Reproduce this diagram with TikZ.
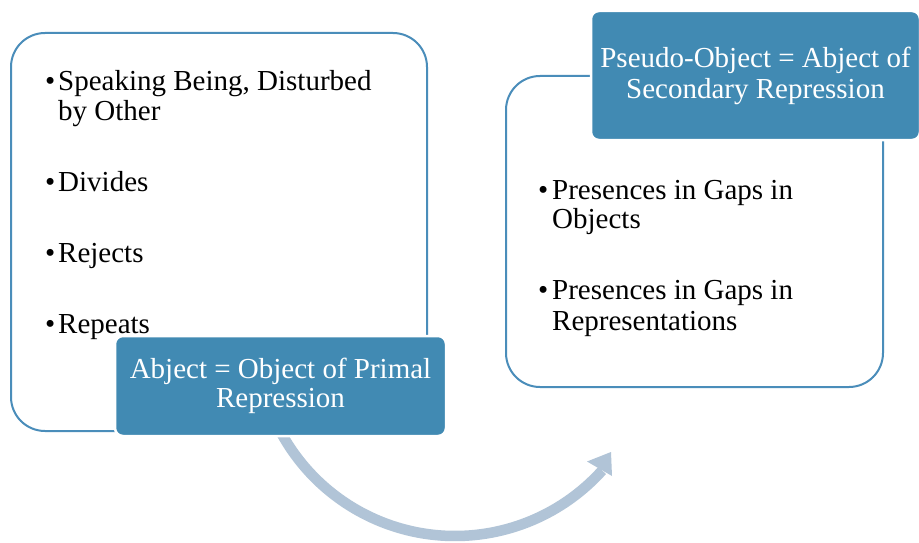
\documentclass[tikz,border=0pt]{standalone}
\usepackage{fontspec}
\setmainfont{Liberation Serif}
\definecolor{accent}{HTML}{418AB3}
\definecolor{frame}{HTML}{4A8DBA}
\definecolor{arrowcol}{HTML}{B1C4D7}

\begin{document}
\begin{tikzpicture}[x=1pt,y=-1pt,
  panel/.style={draw=frame, line width=2pt, rounded corners=34pt, fill=white,
    anchor=north west, inner sep=0pt},
  titlebox/.style={fill=accent, draw=white, line width=2.5pt, rounded corners=8pt,
    text=white, align=center, inner sep=0pt},
  item/.style={anchor=base west, inner sep=0pt, font=\fontsize{29}{30}\selectfont},
  flow/.style={draw=none, fill=arrowcol}
]
% canvas
\fill[white] (0,0) rectangle (919,543);
\useasboundingbox (0,0) rectangle (919,543);

% white panels
\node[panel, minimum width=416pt, minimum height=398pt] (left) at (10,32) {};
\node[panel, minimum width=377pt, minimum height=311pt] (right) at (505,75) {};

% bullet items of the left panel
\node[item] (l1d) at (45,90.7) {•};
\node[item] (l1)  at (58,90.7) {Speaking Being, Disturbed};
\node[item] (l1b) at (58,120.5) {by Other};
\node[item] (l2d) at (45,191.7) {•};
\node[item] (l2)  at (58,191.7) {Divides};
\node[item] (l3d) at (45,262.7) {•};
\node[item] (l3)  at (58,262.7) {Rejects};
\node[item] (l4d) at (45,333) {•};
\node[item] (l4)  at (58,333) {Repeats};

% bullet items of the right panel
\node[item] (r1d) at (538,199) {•};
\node[item] (r1)  at (552,199) {Presences in Gaps in};
\node[item] (r1b) at (552,228.7) {Objects};
\node[item] (r2d) at (538,299) {•};
\node[item] (r2)  at (552,299) {Presences in Gaps in};
\node[item] (r2b) at (552,330) {Representations};

% curved arrow from the first heading towards the second panel
\coordinate (ac) at (455,338);
\coordinate (tip) at (611,452);
\coordinate (barbA) at (587,461.5);
\coordinate (barbB) at (612,476);
\draw[arrowcol, line width=10.5pt] (ac) ++(152:198) arc[start angle=152, end angle=42, radius=198];
\fill[arrowcol] (barbA) -- (tip) -- (barbB) -- cycle;

% headings
\node[titlebox, minimum width=331pt, minimum height=100pt,
      font=\fontsize{29}{29.5}\selectfont] (primal) at (280.5,386) {Abject = Object of Primal\\Repression};
\node[titlebox, minimum width=329pt, minimum height=129pt,
      font=\fontsize{29}{31}\selectfont] (secondary) at (755.5,75.5) {Pseudo-Object = Abject of\\Secondary Repression};
\end{tikzpicture}
\end{document}
